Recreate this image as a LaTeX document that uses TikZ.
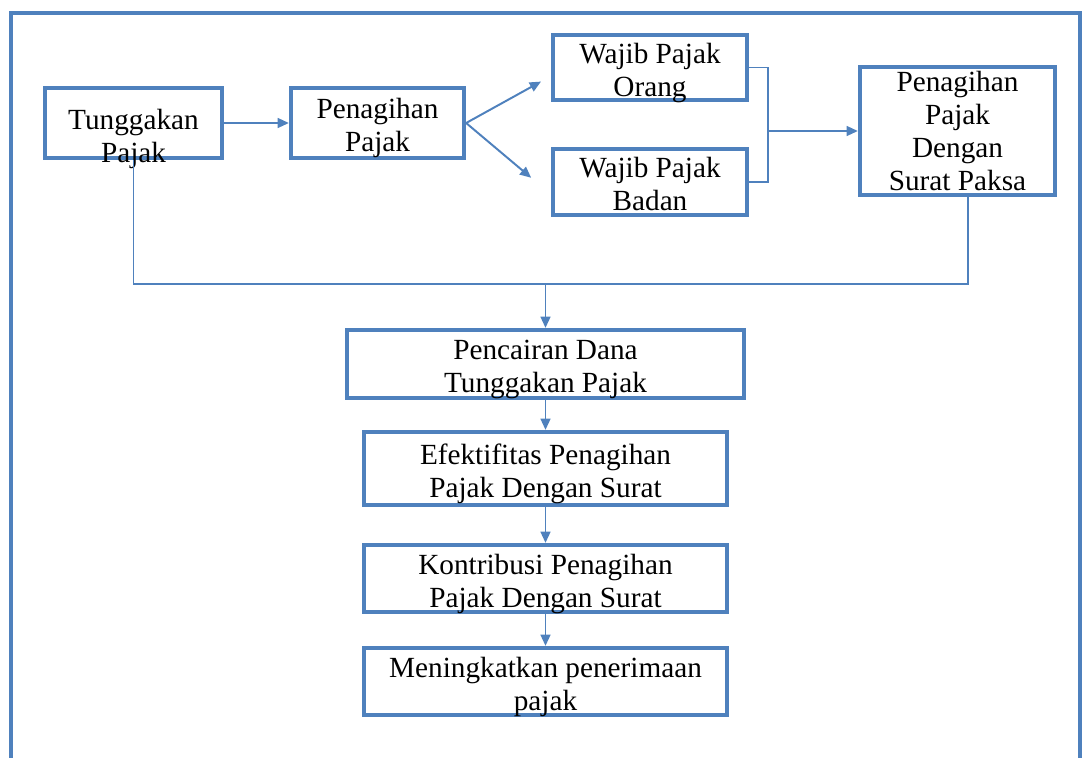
\documentclass[tikz,border=0pt]{standalone}
\usepackage{fontspec}
\setmainfont{Liberation Serif}
\usepackage{tikz}
\usetikzlibrary{arrows.meta}
\definecolor{boxblue}{RGB}{79,129,189}

\begin{document}
\begin{tikzpicture}[x=0.025cm,y=-0.025cm,>={Triangle[length=8pt,width=7pt]},
  color=boxblue,line width=1.4pt,
  box/.style={rectangle,draw,line width=3pt,text=black,align=center,inner sep=0pt,
    font=\fontsize{20.8}{23.4}\selectfont,text depth=0pt,
    execute at begin node={\rule{0pt}{41pt}}}]
  \useasboundingbox (0,0) rectangle (1088,758);

  % outer frame
  \draw[line width=2.5pt] (11,758) |- (1080,13) -- (1080,758);

  \node[box,minimum width=4.425cm,minimum height=1.75cm] (tp) at (133.5,123)
    {\raisebox{3.8pt}[0pt][0pt]{\begin{tabular}{@{}c@{}}Tunggakan\\Pajak\end{tabular}}};
  \node[box,minimum width=4.325cm,minimum height=1.75cm] (pp) at (377.5,123) {Penagihan\\Pajak};
  \node[box,minimum width=4.85cm,minimum height=1.625cm] (wpo) at (650,67.5) {Wajib Pajak\\Orang};
  \node[box,minimum width=4.85cm,minimum height=1.65cm] (wpb) at (650,182) {Wajib Pajak\\Badan};
  \node[box,minimum width=4.875cm,minimum height=3.2cm] (psp) at (957.5,131)
    {Penagihan\\Pajak\\Dengan\\Surat Paksa};
  \node[box,minimum width=9.925cm,minimum height=1.7cm] (pdt) at (545.5,364) {Pencairan Dana\\Tunggakan Pajak};
  \node[box,minimum width=9.075cm,minimum height=1.825cm] (eff) at (545.5,468.5) {Efektifitas Penagihan\\Pajak Dengan Surat};
  \node[box,minimum width=9.075cm,minimum height=1.675cm] (kon) at (545.5,578.5) {Kontribusi Penagihan\\Pajak Dengan Surat};
  \node[box,minimum width=9.075cm,minimum height=1.675cm] (men) at (545.5,681.5) {Meningkatkan penerimaan\\pajak};

  \coordinate (j) at (768,131);
  \coordinate (m) at (545.5,284);

  \draw[->] (tp) -- (pp);
  \draw[->] (pp.east) -- ([xshift=-7pt,yshift=-10pt]wpo.west);
  \draw[->] (pp.east) -- ([xshift=-14pt,yshift=3pt]wpb.west);
  \draw (wpo.east) -| (j) |- (wpb.east);
  \draw[->] (j) -- (psp);
  \draw (tp) |- (m) -| ([xshift=7.5pt]psp.south);
  \draw[->] (m) -- (pdt);
  \draw[->] (pdt) -- (eff);
  \draw[->] (eff) -- (kon);
  \draw[->] (kon) -- (men);
\end{tikzpicture}
\end{document}
